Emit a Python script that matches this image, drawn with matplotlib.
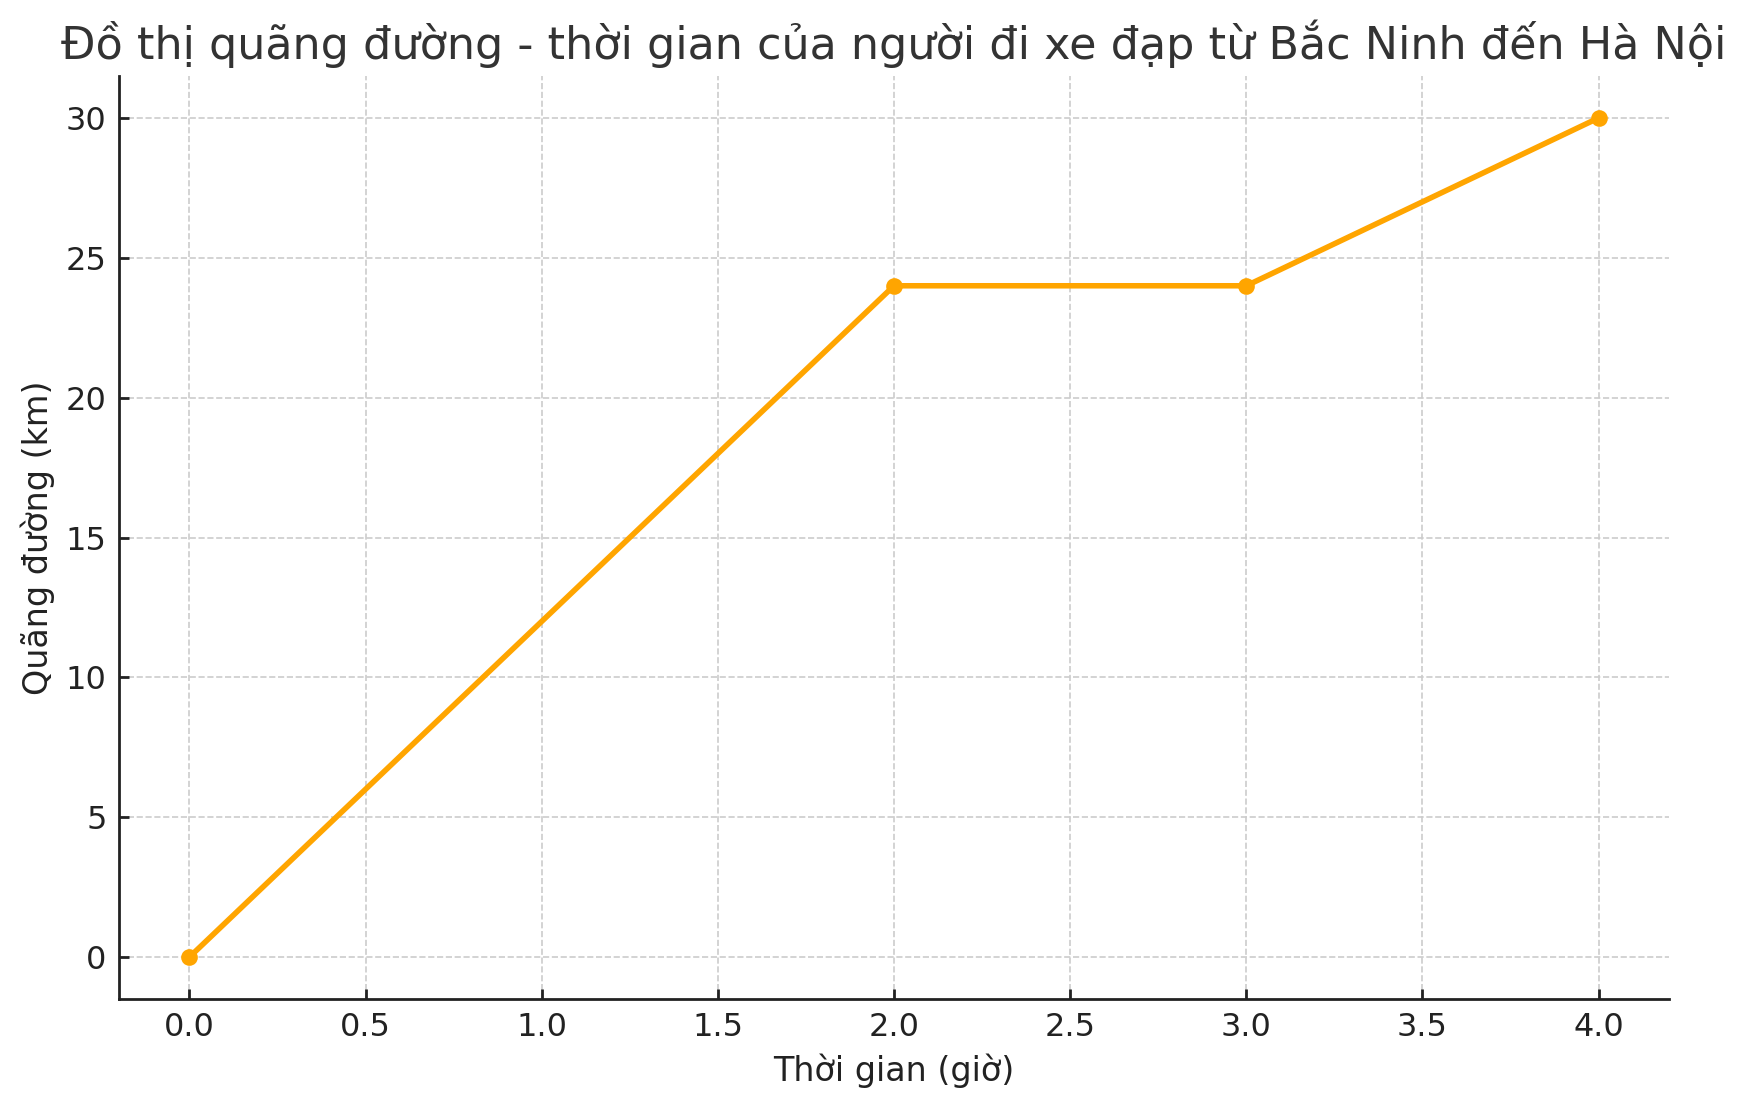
import matplotlib
matplotlib.use("Agg")
import matplotlib.pyplot as plt

time_h = [0, 2, 3, 4]
distance_km = [0, 24, 24, 30]
title = "Đồ thị quãng đường - thời gian của người đi xe đạp từ Bắc Ninh đến Hà Nội"
xlabel = "Thời gian (giờ)"
ylabel = "Quãng đường (km)"

plt.rcParams['font.family'] = ['DejaVu Sans']
fig = plt.figure(figsize=(8.725, 5.54), dpi=200)
ax = fig.add_axes([119/1745, 1 - 999/1108, (1669-119)/1745, (999-76)/1108])
ax.plot(time_h, distance_km, color='#FFA500', linewidth=2, marker='o', markersize=5)
ax.set_title(title, fontsize=16, color='#333333')
ax.set_xlabel(xlabel, fontsize=12, color='#222222')
ax.set_ylabel(ylabel, fontsize=12, color='#222222')
ax.grid(True, linestyle='--', color='#cccccc', linewidth=0.6)
for s in ['top', 'right']:
    ax.spines[s].set_visible(False)
for s in ['left', 'bottom']:
    ax.spines[s].set_color('#222222')
    ax.spines[s].set_linewidth(1.0)
ax.tick_params(labelsize=11.5, direction='in', length=3.5, width=1.0,
               color='#222222', labelcolor='#222222', pad=4.5)
ax.set_xlim(-0.2, 4.2)
ax.set_ylim(-1.5, 31.5)
fig.savefig("out.png", dpi=200)
